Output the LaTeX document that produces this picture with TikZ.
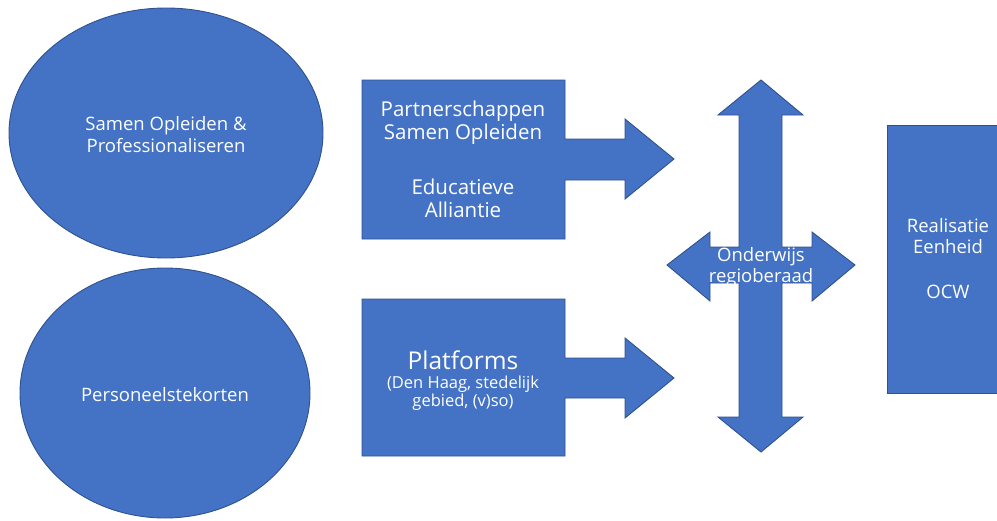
\documentclass[tikz,border=0pt]{standalone}
\usepackage{fontspec}
\setmainfont{Open Sans}
\definecolor{shapefill}{HTML}{4472C4}
\definecolor{shapeline}{HTML}{2F528F}
\tikzset{
  blueshape/.style={fill=shapefill, draw=shapeline, line width=0.9pt, line join=miter},
  label/.style={text=white, align=center, inner sep=0pt, font=#1},
  label/.default={\fontsize{18.5}{22}\selectfont}
}
\begin{document}
\begin{tikzpicture}[x=1pt,y=-1pt]
\useasboundingbox (0,0) rectangle (997,520);

% two ellipses on the left
\draw[blueshape] (166,133) ellipse [x radius=157, y radius=125];
\node[label] (samen) at (166,135) {Samen Opleiden \&\\Professionaliseren};
\draw[blueshape] (165,393) ellipse [x radius=145, y radius=125];
\node[label] (personeel) at (165,395) {Personeelstekorten};

% rectangle with right arrow: partnerships
\draw[blueshape] (362,80) -- (565,80) -- (565,139) -- (625,139) -- (625,119)
  -- (674,159) -- (625,199) -- (625,180) -- (565,180) -- (565,239) -- (362,239) -- cycle;
\node[label={\fontsize{20.5}{23}\selectfont}] (partner) at (463,123)
  {Partnerschappen\\Samen Opleiden};
\node[label={\fontsize{20.5}{23}\selectfont}] (educ) at (463,198)
  {Educatieve\\Alliantie};

% rectangle with right arrow: platforms
\draw[blueshape] (362,299) -- (565,299) -- (565,358) -- (625,358) -- (625,338)
  -- (674,378) -- (625,418) -- (625,398) -- (565,398) -- (565,456) -- (362,456) -- cycle;
\node[label={\fontsize{24.5}{26}\selectfont}] (platforms) at (463,360) {Platforms};
\node[label={\fontsize{16.5}{18.5}\selectfont}] (platsub) at (463,393)
  {(Den Haag, stedelijk\\gebied, (v)so)};

% four-way arrow
\draw[blueshape] (761,80) -- (803,115) -- (782,115) -- (782,247) -- (812,247) -- (812,232)
  -- (855,265) -- (812,301) -- (812,283) -- (782,283) -- (782,417) -- (803,417)
  -- (761,452) -- (718,417) -- (739,417) -- (739,283) -- (710,283) -- (710,301)
  -- (667,265) -- (710,232) -- (710,247) -- (739,247) -- (739,115) -- (718,115) -- cycle;
\node[label={\fontsize{18.5}{21}\selectfont}] (onderwijs) at (761,267)
  {Onderwijs\\regioberaad};

% rectangle on the right
\draw[blueshape] (887,125) rectangle (1005,393);
\node[label={\fontsize{18.5}{21}\selectfont}] (realisatie) at (948,259)
  {Realisatie\\Eenheid\\[24pt]OCW};
\end{tikzpicture}
\end{document}
